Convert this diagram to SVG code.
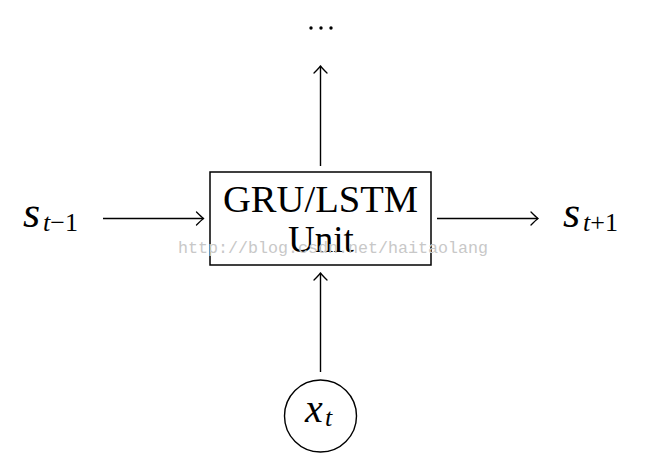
<svg xmlns="http://www.w3.org/2000/svg" width="648" height="475" viewBox="0 0 648 475">
<style>
.ln{stroke:#000;stroke-width:1.4;fill:none}
.tx{font-family:"Liberation Serif","DejaVu Serif",serif;fill:#000}
.it{font-style:italic}
.wm{font-family:"Liberation Mono","DejaVu Sans Mono",monospace;fill:#c8c8c8;font-size:16.5px}
</style>
<defs>
<marker id="arr" viewBox="-10 -8 12 16" markerWidth="12" markerHeight="16" refX="0" refY="0" orient="auto" markerUnits="userSpaceOnUse">
<path d="M -7 -6.5 Q -2 -1.5 0 0 Q -2 1.5 -7 6.5" stroke="#000" stroke-width="1.3" fill="none" stroke-linecap="round"/>
</marker>
</defs>
<rect width="648" height="475" fill="#fff"/>
<g id="connectors">
<line class="ln" x1="320.5" y1="166" x2="320.5" y2="66" marker-end="url(#arr)"/>
<line class="ln" x1="103" y1="218.5" x2="203.5" y2="218.5" marker-end="url(#arr)"/>
<line class="ln" x1="437" y1="218.5" x2="538" y2="218.5" marker-end="url(#arr)"/>
<line class="ln" x1="320.5" y1="372" x2="320.5" y2="273" marker-end="url(#arr)"/>
</g>
<g id="unit">
<rect x="210" y="172" width="221" height="93" fill="#fff" stroke="#000" stroke-width="1.5"/>
<text class="tx" x="320.5" y="212" font-size="37" text-anchor="middle" textLength="195" lengthAdjust="spacingAndGlyphs">GRU/LSTM</text>
<text class="tx" x="321" y="252" font-size="37" text-anchor="middle">Unit</text>
</g>
<g id="output">
<circle cx="311" cy="28" r="1.7"/>
<circle cx="321" cy="28" r="1.7"/>
<circle cx="331" cy="28" r="1.7"/>
</g>
<g id="s_prev">
<text class="tx" font-size="44"><tspan class="it" x="23" y="227">s</tspan><tspan font-size="26" x="43" y="231"><tspan class="it">t</tspan>−1</tspan></text>
</g>
<g id="s_next">
<text class="tx" font-size="44"><tspan class="it" x="563" y="227">s</tspan><tspan font-size="26" x="583" y="231"><tspan class="it">t</tspan>+1</tspan></text>
</g>
<g id="x_t">
<circle cx="320.5" cy="416" r="36" fill="none" stroke="#000" stroke-width="1.4"/>
<text class="tx" font-size="40"><tspan class="it" x="305" y="422">x</tspan><tspan class="it" font-size="26" x="325" y="426">t</tspan></text>
</g>
<text class="wm" x="178" y="253" textLength="310" lengthAdjust="spacingAndGlyphs">http://blog.csdn.net/haitaolang</text>
</svg>
